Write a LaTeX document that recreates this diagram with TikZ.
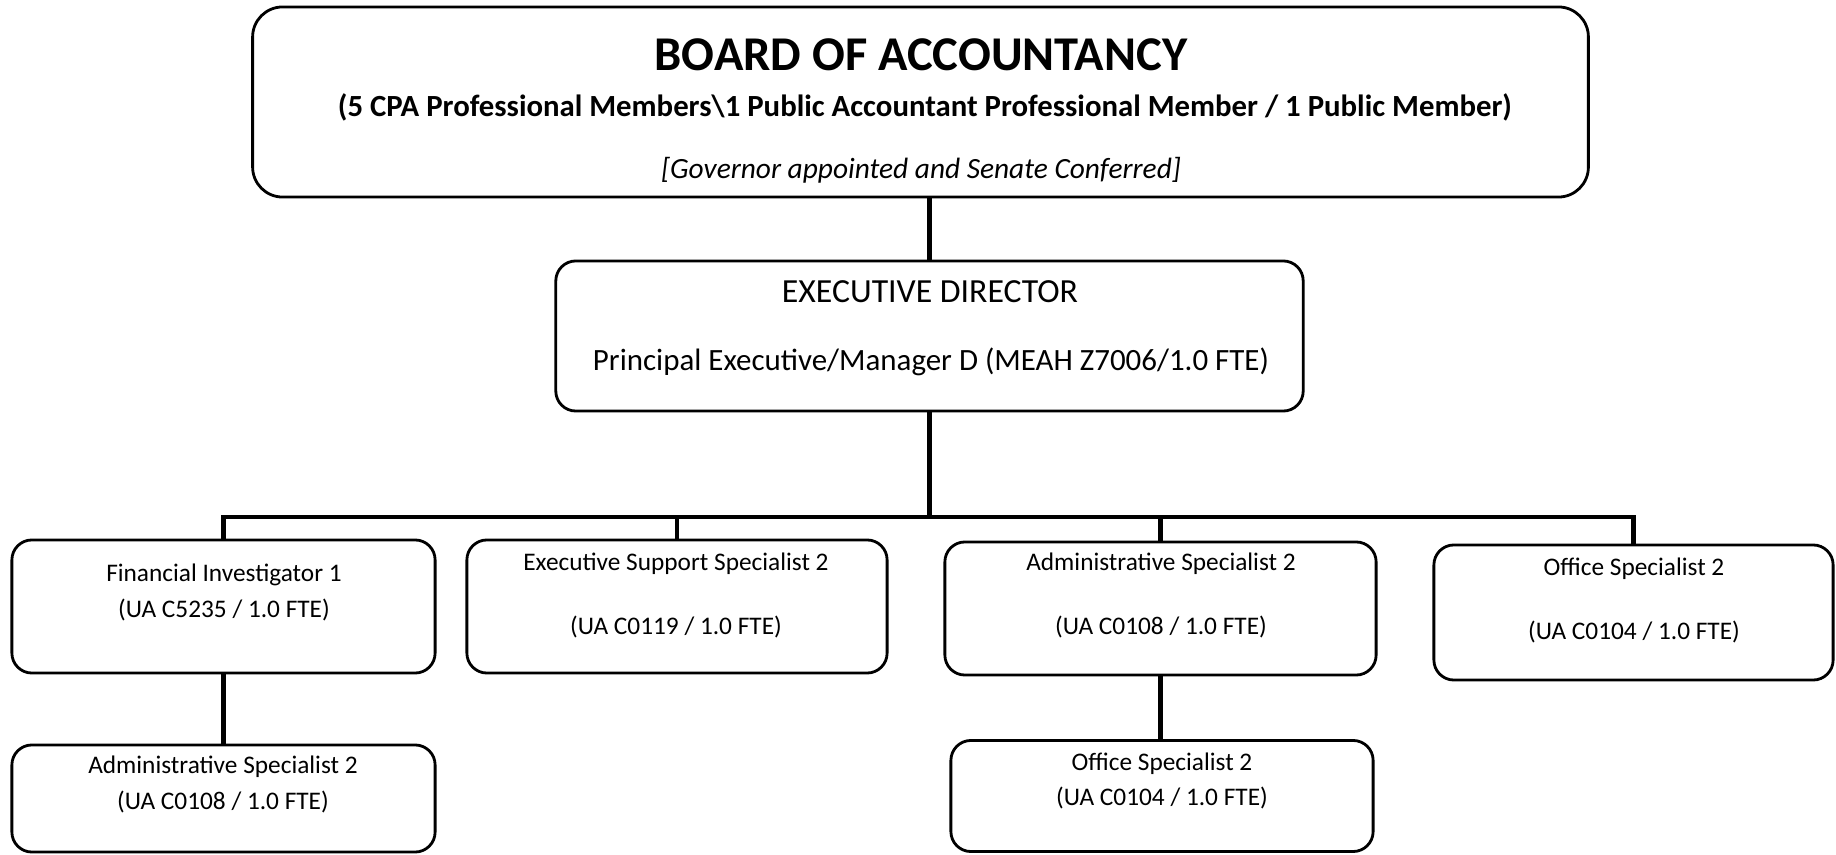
\documentclass[tikz,border=0pt]{standalone}
\usepackage{fontspec}
\setmainfont{Carlito}

\begin{document}
\begin{tikzpicture}[x=0.01cm, y=-0.01cm,
  box/.style={draw, rounded corners=0.2cm, line width=0.8pt, inner sep=0pt},
  txt/.style={align=center, inner sep=0pt, font=\fontsize{7.2}{10}\selectfont},
  link/.style={line width=1.4pt}]

\useasboundingbox (0,0) rectangle (1836,855);

% board
\node[box, rounded corners=0.3cm, minimum width=13.35cm, minimum height=1.9cm] (board) at (920.5,102) {};
\node[inner sep=0pt, font=\fontsize{13.8}{16}\selectfont\bfseries] (board-title) at (921,55) {BOARD OF ACCOUNTANCY};
\node[inner sep=0pt, font=\fontsize{8.75}{10}\selectfont\bfseries] (board-members) at (925,107)
  {(5 CPA Professional Members\textbackslash1 Public Accountant Professional Member / 1 Public Member)};
\node[inner sep=0pt, font=\fontsize{8.35}{10}\selectfont\itshape] (board-note) at (921,170) {[Governor appointed and Senate Conferred]};

% director
\node[box, minimum width=7.47cm, minimum height=1.5cm] (exec) at (929.5,336) {};
\node[inner sep=0pt, font=\fontsize{9.6}{11}\selectfont] (exec-title) at (930,292) {EXECUTIVE DIRECTOR};
\node[inner sep=0pt, font=\fontsize{8.8}{11}\selectfont] (exec-class) at (931,362) {Principal Executive/Manager D (MEAH Z7006/1.0 FTE)};

% staff
\node[box, minimum width=4.23cm, minimum height=1.33cm] (fi) at (223.5,606.5) {};
\node[txt] (fi-text) at (224,592.5) {Financial Investigator 1\\(UA C5235 / 1.0 FTE)};

\node[box, minimum width=4.2cm, minimum height=1.33cm] (ess) at (677,606.5) {};
\node[txt] (ess-text) at (676,595.5) {Executive Support Specialist 2\\[8.2pt](UA C0119 / 1.0 FTE)};

\node[box, minimum width=4.31cm, minimum height=1.33cm] (adm) at (1160.5,608.5) {};
\node[txt] (adm-text) at (1161,595.5) {Administrative Specialist 2\\[8.2pt](UA C0108 / 1.0 FTE)};

\node[box, minimum width=3.99cm, minimum height=1.35cm] (off) at (1633.5,612.5) {};
\node[txt] (off-text) at (1634,600) {Office Specialist 2\\[8.2pt](UA C0104 / 1.0 FTE)};

\node[box, minimum width=4.23cm, minimum height=1.07cm] (fi-adm) at (223.5,798.5) {};
\node[txt] (fi-adm-text) at (223,784.5) {Administrative Specialist 2\\(UA C0108 / 1.0 FTE)};

\node[box, minimum width=4.22cm, minimum height=1.11cm] (adm-off) at (1162,796) {};
\node[txt] (adm-off-text) at (1162,781) {Office Specialist 2\\(UA C0104 / 1.0 FTE)};

% lines
\coordinate (bus) at (929.5,517);
\draw[link] (exec.north) -- (exec.north |- board.south);
\draw[link] (exec.south) -- (bus);
\foreach \n in {fi, ess, adm, off}
  \draw[link] (bus) -| (\n.north);
\draw[link] (fi.south) -- (fi-adm.north);
\draw[link] (adm.south) -- (adm.south |- adm-off.north);

\end{tikzpicture}
\end{document}
